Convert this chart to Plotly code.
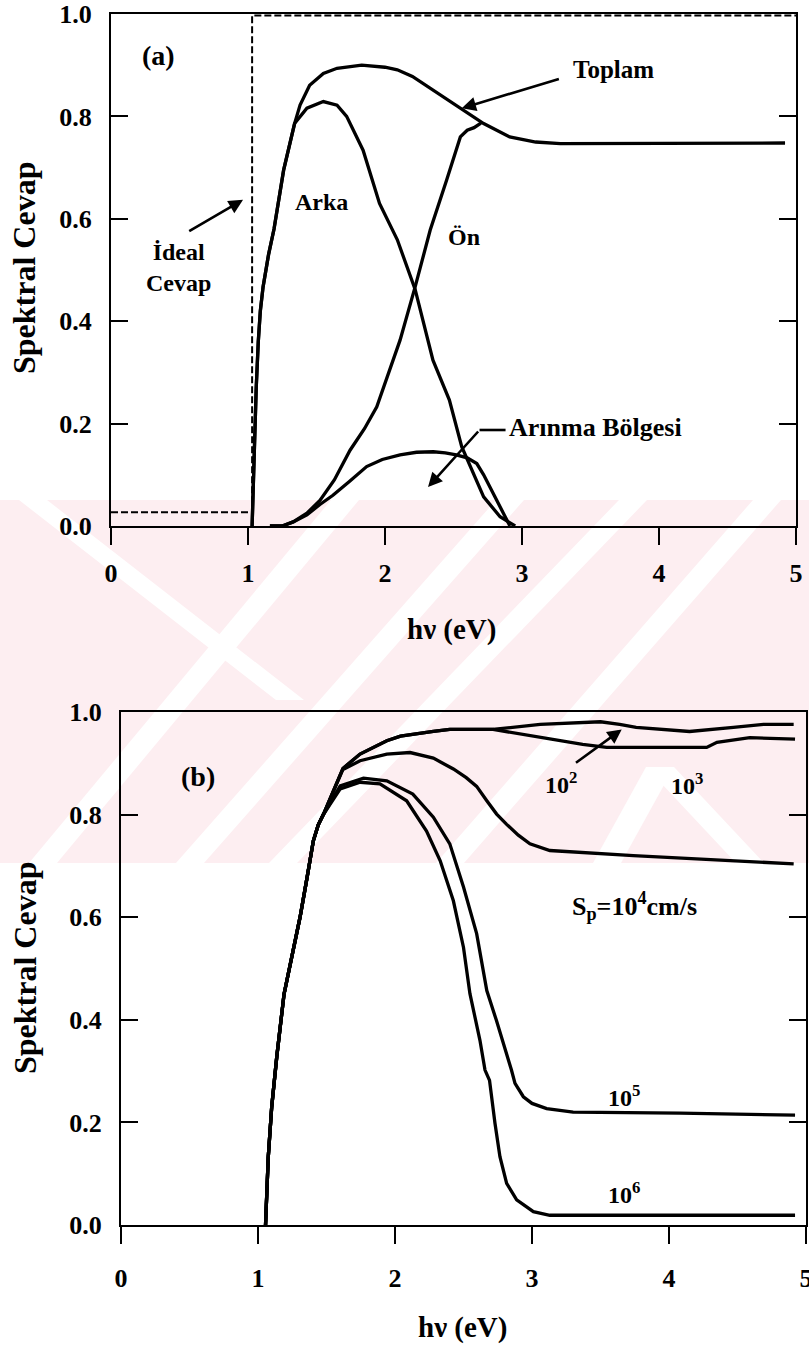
import plotly.graph_objects as go

# ---------------- Panel (a): spectral response components ----------------
ideal_x = [0.0, 1.03, 1.03, 5.0]
ideal_y = [0.027, 0.027, 0.997, 0.997]

toplam_x = [1.03, 1.045, 1.06, 1.075, 1.09, 1.11, 1.15, 1.19, 1.26, 1.34, 1.38, 1.45,
            1.55, 1.65, 1.83, 2.0, 2.09, 2.2, 2.33, 2.45, 2.55, 2.72, 2.91, 3.1, 3.28, 4.0, 4.92]
toplam_y = [0.0, 0.15, 0.27, 0.36, 0.42, 0.467, 0.53, 0.58, 0.695, 0.786, 0.822, 0.861,
            0.884, 0.894, 0.900, 0.896, 0.891, 0.878, 0.855, 0.835, 0.816, 0.786, 0.760, 0.750, 0.747, 0.748, 0.748]

arka_x = [1.03, 1.045, 1.06, 1.075, 1.09, 1.11, 1.15, 1.19, 1.26, 1.34, 1.43, 1.55, 1.65,
          1.72, 1.84, 1.96, 2.09, 2.22, 2.35, 2.47, 2.56, 2.72, 2.84, 2.95]
arka_y = [0.0, 0.15, 0.27, 0.36, 0.42, 0.467, 0.53, 0.58, 0.695, 0.786, 0.816, 0.829, 0.822,
          0.80, 0.734, 0.630, 0.559, 0.462, 0.324, 0.246, 0.155, 0.057, 0.018, 0.0]

on_x = [1.16, 1.25, 1.33, 1.43, 1.525, 1.63, 1.745, 1.85, 1.94, 2.03, 2.11, 2.22, 2.33,
        2.45, 2.55, 2.60, 2.65, 2.70]
on_y = [0.0, 0.0, 0.008, 0.025, 0.05, 0.09, 0.148, 0.19, 0.233, 0.30, 0.363, 0.467, 0.578,
        0.676, 0.760, 0.773, 0.778, 0.787]

arinma_x = [1.16, 1.25, 1.33, 1.43, 1.525, 1.62, 1.74, 1.866, 1.98, 2.11, 2.23, 2.353, 2.44,
            2.52, 2.60, 2.67, 2.72, 2.766, 2.82, 2.864, 2.912]
arinma_y = [0.0, 0.0, 0.008, 0.022, 0.042, 0.06, 0.087, 0.116, 0.13, 0.139, 0.144, 0.145, 0.143,
            0.139, 0.133, 0.122, 0.10, 0.077, 0.05, 0.025, 0.0]

# ---------------- Panel (b): response vs. surface recombination velocity ----------------
sp2_x = [1.055, 1.075, 1.10, 1.137, 1.19, 1.25, 1.307, 1.36, 1.404, 1.44, 1.477, 1.62, 1.745,
         1.94, 2.04, 2.28, 2.40, 2.715, 3.06, 3.50, 3.64, 3.76, 4.15, 4.47, 4.69, 4.91]
sp2_y = [0.0, 0.133, 0.23, 0.328, 0.45, 0.525, 0.60, 0.68, 0.749, 0.78, 0.80, 0.89, 0.918,
         0.944, 0.953, 0.962, 0.966, 0.966, 0.976, 0.981, 0.976, 0.97, 0.962, 0.97, 0.976, 0.976]

sp3_x = [1.055, 1.075, 1.10, 1.137, 1.19, 1.25, 1.307, 1.36, 1.404, 1.44, 1.477, 1.62, 1.745,
         1.94, 2.04, 2.28, 2.40, 2.715, 3.01, 3.37, 3.545, 4.275, 4.35, 4.59, 4.92]
sp3_y = [0.0, 0.133, 0.23, 0.328, 0.45, 0.525, 0.60, 0.68, 0.749, 0.78, 0.80, 0.89, 0.918,
         0.944, 0.953, 0.962, 0.966, 0.966, 0.953, 0.937, 0.931, 0.931, 0.941, 0.95, 0.947]

sp4_x = [1.055, 1.075, 1.10, 1.137, 1.19, 1.25, 1.307, 1.36, 1.404, 1.44, 1.477, 1.62, 1.745,
         1.94, 2.11, 2.28, 2.426, 2.52, 2.596, 2.67, 2.742, 2.815, 2.90, 2.985, 3.13, 3.74, 4.91]
sp4_y = [0.0, 0.133, 0.23, 0.328, 0.45, 0.525, 0.60, 0.68, 0.749, 0.78, 0.80, 0.888, 0.905,
         0.918, 0.921, 0.91, 0.889, 0.872, 0.855, 0.827, 0.801, 0.781, 0.76, 0.743, 0.73, 0.72, 0.704]

sp5_x = [1.055, 1.075, 1.10, 1.137, 1.19, 1.25, 1.307, 1.36, 1.404, 1.44, 1.477, 1.60, 1.77,
         1.94, 2.13, 2.28, 2.40, 2.50, 2.596, 2.67, 2.74, 2.85, 2.876, 2.937, 3.0, 3.107, 3.30, 4.08, 4.92]
sp5_y = [0.0, 0.133, 0.23, 0.328, 0.45, 0.525, 0.60, 0.68, 0.749, 0.78, 0.80, 0.856, 0.871,
         0.866, 0.84, 0.795, 0.743, 0.659, 0.568, 0.457, 0.399, 0.302, 0.276, 0.25, 0.237, 0.227, 0.22, 0.218, 0.214]

sp6_x = [1.055, 1.075, 1.10, 1.137, 1.19, 1.25, 1.307, 1.36, 1.404, 1.44, 1.477, 1.60, 1.745,
         1.89, 2.085, 2.23, 2.33, 2.426, 2.50, 2.547, 2.62, 2.657, 2.69, 2.73, 2.766, 2.815, 2.888,
         3.01, 3.13, 4.92]
sp6_y = [0.0, 0.133, 0.23, 0.328, 0.45, 0.525, 0.60, 0.68, 0.749, 0.78, 0.80, 0.85, 0.863,
         0.86, 0.827, 0.768, 0.71, 0.632, 0.541, 0.451, 0.36, 0.302, 0.282, 0.198, 0.133, 0.081, 0.049,
         0.026, 0.019, 0.019]

x_ticks = [0, 1, 2, 3, 4, 5]
y_ticks = [0.0, 0.2, 0.4, 0.6, 0.8, 1.0]
y_tick_text = ["0.0", "0.2", "0.4", "0.6", "0.8", "1.0"]

W, H = 809, 1352
FONT = "Liberation Serif"
INK = "black"
PINK = "#fdeef1"

fig = go.Figure()


def curve(x, y, xa, ya, dash="solid", width=3.3):
    fig.add_trace(go.Scatter(x=x, y=y, mode="lines", xaxis=xa, yaxis=ya,
                             line=dict(color=INK, width=width, dash=dash),
                             hoverinfo="skip", showlegend=False))


curve(ideal_x, ideal_y, "x", "y", dash="7px,3px", width=2)
curve(toplam_x, toplam_y, "x", "y")
curve(arka_x, arka_y, "x", "y")
curve(on_x, on_y, "x", "y")
curve(arinma_x, arinma_y, "x", "y")

for xs, ys in [(sp2_x, sp2_y), (sp3_x, sp3_y), (sp4_x, sp4_y), (sp5_x, sp5_y), (sp6_x, sp6_y)]:
    curve(xs, ys, "x2", "y2")


def px_x(p):
    return p / W


def px_y(p):
    return 1 - p / H


def x_axis(standoff):
    return dict(range=[0, 5], tickvals=x_ticks, ticks="outside", ticklen=17, tickwidth=2,
                tickcolor=INK, showline=True, linewidth=2, linecolor=INK, mirror=True,
                showgrid=False, zeroline=False, ticklabelstandoff=standoff, automargin=False,
                ticklabeloverflow="allow",
                tickfont=dict(family=FONT, size=26, color=INK, weight="bold"))


yaxis_common = dict(range=[0, 1], tickvals=y_ticks, ticktext=y_tick_text, ticks="inside",
                    ticklen=17, tickwidth=2, tickcolor=INK, showline=True, linewidth=2,
                    linecolor=INK, mirror="ticks", showgrid=False, zeroline=False,
                    ticklabelstandoff=12, automargin=False,
                    tickfont=dict(family=FONT, size=26, color=INK, weight="bold"))

fig.update_layout(
    width=W, height=H, margin=dict(l=0, r=0, t=0, b=0, autoexpand=False),
    paper_bgcolor="white", plot_bgcolor="rgba(0,0,0,0)", showlegend=False,
    font=dict(family=FONT, color=INK),
    xaxis=dict(domain=[px_x(111), px_x(796)], anchor="y", **x_axis(6)),
    yaxis=dict(domain=[px_y(526), px_y(14)], anchor="x", **yaxis_common),
    xaxis2=dict(domain=[px_x(121), px_x(806)], anchor="y2", **x_axis(12)),
    yaxis2=dict(domain=[px_y(1225), px_y(712)], anchor="x2", **yaxis_common),
)

# ---------------- faint pink background band with diagonal light stripes ----------------
shapes = [dict(type="rect", xref="paper", yref="paper", layer="below",
               x0=0, x1=1, y0=px_y(863), y1=px_y(500), fillcolor=PINK, line=dict(width=0))]

stripes = [  # (x at top edge, y top, x at bottom edge, y bottom) in pixels
    (345, 500, 43, 863), (510, 500, 190, 863), (633, 500, 283, 863), (767, 500, 450, 863),
    (33, 500, 290, 700), (660, 767, 607, 863), (660, 767, 750, 863),
]
half = 14
for xt, yt, xb, yb in stripes:
    pts = [(xt - half, yt), (xt + half, yt), (xb + half, yb), (xb - half, yb)]
    path = "M " + " L ".join(f"{px_x(a):.5f},{px_y(b):.5f}" for a, b in pts) + " Z"
    shapes.append(dict(type="path", path=path, xref="paper", yref="paper", layer="below",
                       fillcolor="white", line=dict(width=0)))

# short horizontal leader of the depletion-region arrow
shapes.append(dict(type="line", x0=2.69, y0=0.1875, x1=2.88, y1=0.1875, xref="x", yref="y",
                   line=dict(color=INK, width=2.6)))
fig.update_layout(shapes=shapes)

ann = []


def label(text, x, y, xref="x", yref="y", size=24, xanchor="center", **kw):
    ann.append(dict(text=text, x=x, y=y, xref=xref, yref=yref, showarrow=False,
                    xanchor=xanchor, yanchor="middle",
                    font=dict(family=FONT, size=size, color=INK, weight="bold"), **kw))


def arrow(x_tip, y_tip, x_tail, y_tail, xref="x", yref="y"):
    ann.append(dict(text="", x=x_tip, y=y_tip, ax=x_tail, ay=y_tail, xref=xref, yref=yref,
                    axref=xref, ayref=yref, showarrow=True, arrowhead=2, arrowsize=1.1,
                    arrowwidth=2.6, arrowcolor=INK, standoff=0, startstandoff=0))


# axis titles
label("Spektral Cevap", px_x(24), px_y(268), xref="paper", yref="paper", size=32, textangle=-90)
label("hν (eV)", px_x(452), px_y(629), xref="paper", yref="paper", size=29)
label("Spektral Cevap", px_x(25), px_y(968), xref="paper", yref="paper", size=32, textangle=-90)
label("hν (eV)", px_x(462), px_y(1327), xref="paper", yref="paper", size=29)

# panel (a) labels
label("(a)", 0.345, 0.918, size=28)
label("İdeal<br>Cevap", 0.49, 0.505, size=24)
arrow(0.964, 0.637, 0.56, 0.574)
label("Arka", 1.54, 0.632, size=24)
label("Ön", 2.58, 0.565, size=24)
label("Toplam", 3.67, 0.892, size=25)
arrow(2.56, 0.816, 3.28, 0.874)
label("Arınma Bölgesi", 2.89, 0.192, size=26, xanchor="left")
arrow(2.314, 0.076, 2.69, 0.1875)

# panel (b) labels
label("(b)", 0.565, 0.874, xref="x2", yref="y2", size=28)
label("10<sup>2</sup>", 3.21, 0.862, xref="x2", yref="y2", size=24)
arrow(3.655, 0.966, 3.31, 0.899, xref="x2", yref="y2")
label("10<sup>3</sup>", 4.13, 0.860, xref="x2", yref="y2", size=24)
label("S<sub>p</sub>=10<sup>4</sup>cm/s", 3.75, 0.622, xref="x2", yref="y2", size=26)
label("10<sup>5</sup>", 3.67, 0.252, xref="x2", yref="y2", size=24)
label("10<sup>6</sup>", 3.67, 0.062, xref="x2", yref="y2", size=24)

fig.update_layout(annotations=ann)

fig.write_html("out.html")
